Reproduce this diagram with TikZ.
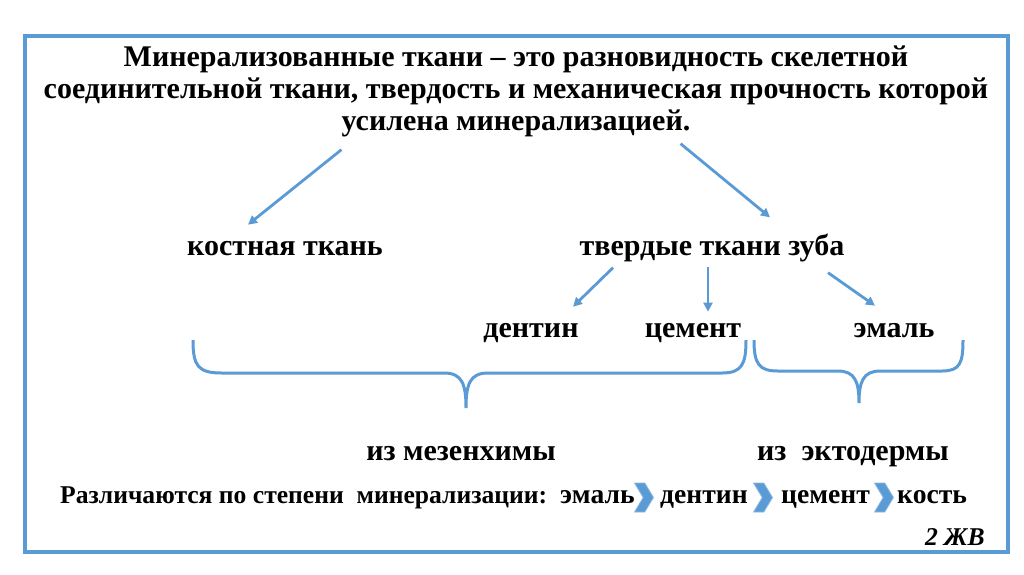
\documentclass[tikz,border=0pt]{standalone}
\usepackage{fontspec}
\setmainfont{Liberation Serif}[BoldFont={Liberation Serif Bold},BoldItalicFont={Liberation Serif Bold Italic}]
\usetikzlibrary{arrows.meta,shapes.symbols}
\definecolor{sblue}{RGB}{91,155,213}
\definecolor{sblueedge}{RGB}{140,185,228}
\newcommand\bigtxt{\fontsize{30}{34}\selectfont\bfseries}
\newcommand\smtxt{\fontsize{25.6}{29}\selectfont\bfseries}
\newcommand\midtxt{\fontsize{27.6}{31}\selectfont\bfseries}

\begin{document}
\begin{tikzpicture}[x=1pt,y=-1pt,
  word/.style={inner sep=0pt,anchor=base,font=\bigtxt},
  lword/.style={inner sep=0pt,anchor=base west,font=\smtxt},
  oword/.style={inner sep=0pt,anchor=base west,font=\midtxt},
  arr/.style={draw=sblue,line width=2.8pt,-{Triangle[length=9pt,width=9pt]}},
  brc/.style={draw=sblue,line width=3pt},
  chev/.style={signal,signal from=west,signal to=east,signal pointer angle=118,
    fill=sblue,draw=sblueedge,line width=0.8pt,minimum width=19pt,minimum height=29pt,inner sep=0pt}]
\useasboundingbox (0,0) rectangle (1024,574);
\fill[white] (0,0) rectangle (1024,574);
\draw[sblue,line width=4pt] (25,36) rectangle (1008,552);
% title
\node[word] (titleA) at (516,66) {Минерализованные ткани -- это разновидность скелетной};
\node[word] (titleB) at (516,98) {соединительной ткани, твердость и механическая прочность которой};
\node[word] (titleC) at (516,130) {усилена минерализацией.};
% two kinds
\node[word] (bone) at (285,255) {костная ткань};
\node[word] (teeth) at (712,255) {твердые ткани зуба};
\draw[arr] ([xshift=0pt,yshift=-13pt]titleC.south west) -- ([xshift=-37pt,yshift=16pt]bone.north);
\draw[arr] ([xshift=-10pt,yshift=-7pt]titleC.south east) -- ([xshift=58pt,yshift=16pt]teeth.north);
% tooth tissues
\node[word] (dentin) at (531,337) {дентин};
\node[word] (cement) at (693,337) {цемент};
\node[word] (enamel) at (894,337) {эмаль};
\draw[arr] ([xshift=-99pt,yshift=-6pt]teeth.south) -- ([xshift=42pt,yshift=16pt]dentin.north);
\draw[arr] ([xshift=-4pt,yshift=-5pt]teeth.south) -- ([xshift=15pt,yshift=11pt]cement.north);
\draw[arr] ([xshift=116pt,yshift=-11pt]teeth.south) -- ([xshift=-19pt,yshift=17pt]enamel.north);
% braces
\draw[brc] (193,340) .. controls (193,366) and (198,373) .. (222,373) -- (444,373)
  .. controls (462,373) and (466,384) .. (466,408)
  .. controls (466,384) and (470,373) .. (488,373) -- (722,373)
  .. controls (742,373) and (746,364) .. (746,340);
\draw[brc] (754,340) .. controls (754,364) and (759,371) .. (778,371) -- (838,371)
  .. controls (855,371) and (859,382) .. (859,403)
  .. controls (859,382) and (863,371) .. (880,371) -- (942,371)
  .. controls (960,371) and (963,363) .. (963,340);
\node[word] (mes) at (461,460) {из мезенхимы};
\node[word] (ecto) at (853,460) {из\ \ эктодермы};
% order
\node[lword] (order) at (60,503) {Различаются по степени\ \ минерализации:};
\node[oword] (o1) at (560,503) {эмаль};
\node[chev] (c1) at (644,497.5) {};
\node[oword] (o2) at (660,503) {дентин};
\node[chev] (c2) at (763,497.5) {};
\node[oword] (o3) at (781,503) {цемент};
\node[chev] (c3) at (884,497.5) {};
\node[oword] (o4) at (897,503) {кость};
\node[inner sep=0pt,anchor=base east,font=\smtxt\itshape] (mark) at (985,545) {2 ЖВ};
\end{tikzpicture}
\end{document}
